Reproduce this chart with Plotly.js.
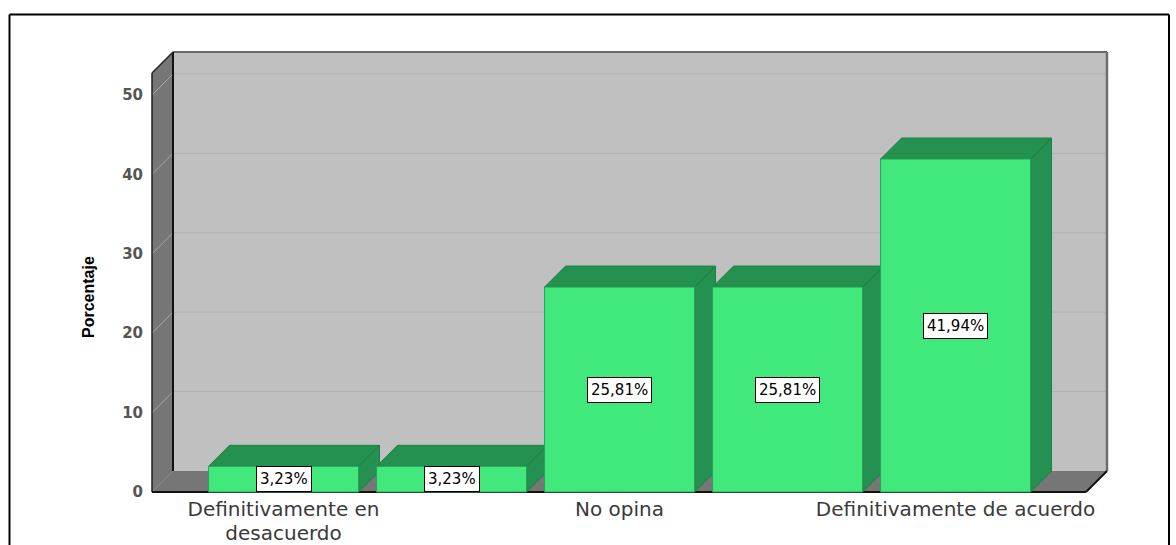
<!DOCTYPE html>
<html>
<head>
<meta charset="utf-8">
<script src="https://cdn.plot.ly/plotly-3.0.1.min.js"></script>
<style>
  html, body { margin: 0; padding: 0; background: #ffffff; }
  #chart { width: 1176px; height: 545px; }
</style>
</head>
<body>
<div id="chart"></div>
<script>
// ---- data ----
const categories = ['Definitivamente en desacuerdo', 'En desacuerdo', 'No opina', 'De acuerdo', 'Definitivamente de acuerdo'];
const percentages = [3.23, 3.23, 25.81, 25.81, 41.94];
// category tick labels as drawn (only every other category is labelled), split into two lines
const tickLabelsLine1 = ['Definitivamente en', '', 'No opina', '', 'Definitivamente de acuerdo'];
const tickLabelsLine2 = ['desacuerdo', '', '', '', ''];
const yTicks = [0, 10, 20, 30, 40, 50];
const yTickLabels = ['0', '10', '20', '30', '40', '50'];
const barLabels = percentages.map(v => v.toFixed(2).replace('.', ',') + '%');

// ---- geometry (pixel scale of the 3D box) ----
const PX_CAT = 168;      // px per category
const PX_UNIT = 7.94;    // px per percentage point
const DEPTH = 21;        // oblique depth in px
const FRONT_W = 955;     // width of front plane + depth in px
const FRONT_H = 440;     // height from floor front to back-wall top in px
const PAD = 2;
const dx = DEPTH / PX_CAT;
const dy = DEPTH / PX_UNIT;
const X0 = -0.783;                       // front-left edge
const X1 = X0 + FRONT_W / PX_CAT;        // back-right edge
const XF = X1 - dx;                      // front-right edge
const Y1 = FRONT_H / PX_UNIT;            // back-wall top
const xRange = [X0 - PAD / PX_CAT, X1 + PAD / PX_CAT];
const yRange = [-PAD / PX_UNIT, Y1 + PAD / PX_UNIT];
const BAR_W = 150 / PX_CAT;
const hw = BAR_W / 2;

const W = 1176, H = 545;
const mL = 150, mT = 50;
const plotW = FRONT_W + 2 * PAD, plotH = FRONT_H + 2 * PAD;
const mR = W - mL - plotW, mB = H - mT - plotH;
const px2paperX = px => (px - mL) / plotW;
const px2paperY = py => (mT + plotH - py) / plotH;

const idx = categories.map((c, i) => i);

// depth faces (top + right side) of each bar
const dX = [], dY = [];
idx.forEach((i) => {
  const v = percentages[i];
  dX.push(i - hw, i + hw, i + hw + dx, i - hw + dx, i - hw, null);
  dY.push(v, v, v + dy, v + dy, v, null);
  dX.push(i + hw, i + hw + dx, i + hw + dx, i + hw, i + hw, null);
  dY.push(0, dy, v + dy, v, 0, null);
});

const darkGreen = '#259150';
const green = '#41e97c';

const traces = [
  {
    type: 'scatter', mode: 'lines', x: dX, y: dY, fill: 'toself',
    fillcolor: darkGreen, line: { color: '#1f7f45', width: 1 },
    hoverinfo: 'skip', showlegend: false, xaxis: 'x', yaxis: 'y'
  },
  {
    type: 'bar', x: idx, y: percentages, width: BAR_W,
    marker: { color: green, line: { color: '#2c9f58', width: 1 } },
    hovertext: categories, hoverinfo: 'text+y', showlegend: false,
    xaxis: 'x2', yaxis: 'y2'
  }
];

const shapes = [];
const L = (x0, y0, x1, y1, color, width) => shapes.push({
  type: 'line', xref: 'x', yref: 'y', x0, y0, x1, y1, layer: 'below',
  line: { color, width }
});
// back wall
shapes.push({ type: 'rect', xref: 'x', yref: 'y', x0: X0 + dx, x1: X1, y0: dy, y1: Y1,
  fillcolor: '#c0c0c0', line: { width: 0 }, layer: 'below' });
// floor
shapes.push({ type: 'path', xref: 'x', yref: 'y', layer: 'below',
  path: `M ${X0} 0 L ${XF} 0 L ${X1} ${dy} L ${X0 + dx} ${dy} Z`,
  fillcolor: '#767676', line: { width: 0 } });
// left side wall
shapes.push({ type: 'path', xref: 'x', yref: 'y', layer: 'below',
  path: `M ${X0} 0 L ${X0 + dx} ${dy} L ${X0 + dx} ${Y1} L ${X0} ${Y1 - dy} Z`,
  fillcolor: '#767676', line: { width: 0 } });
// grid lines (back wall + side wall)
yTicks.filter(v => v > 0).forEach(v => {
  L(X0 + dx, v + dy, X1, v + dy, '#b1b1b1', 1);
  L(X0, v, X0 + dx, v + dy, '#a9a9a9', 1);
});
// edges
L(X0 + dx, Y1, X1, Y1, '#6a6a6a', 2);
L(X1, dy, X1, Y1, '#6e6e6e', 2.5);
L(X0, 0, X0 + dx, dy, '#8a8a8a', 1);
L(X0 + dx, dy, X0 + dx, Y1, '#111111', 2);
L(X0, 0, X0, Y1 - dy, '#222222', 1.5);
L(X0, Y1 - dy, X0 + dx, Y1, '#222222', 1.5);
L(X0, 0, XF, 0, '#111111', 2);
L(XF, 0, X1, dy, '#111111', 2);

// outer frame
const fl = px2paperX(9.5), ft = px2paperY(14.5), fr = px2paperX(1169), fb = px2paperY(600);
[[fl, fb, fl, ft], [fl, ft, fr, ft], [fr, ft, fr, fb]].forEach(s => shapes.push({
  type: 'line', xref: 'paper', yref: 'paper', x0: s[0], y0: s[1], x1: s[2], y1: s[3],
  line: { color: '#000000', width: 2 }
}));

const annotations = idx.map(i => ({
  xref: 'x', yref: 'y', x: i, y: percentages[i] / 2, text: barLabels[i],
  showarrow: false, bgcolor: '#ffffff', bordercolor: '#000000', borderwidth: 1, borderpad: 3,
  font: { family: 'DejaVu Sans', size: 15, color: '#000000' }
}));
annotations.push({
  xref: 'paper', yref: 'paper', x: px2paperX(88), y: px2paperY(297),
  text: 'Porcentaje', textangle: -90, showarrow: false, xanchor: 'center', yanchor: 'middle',
  font: { family: 'Liberation Sans', size: 16, color: '#000000', weight: 'bold' }
});

const xTickFont = { family: 'DejaVu Sans', size: 20, color: '#3a3a3a' };

const layout = {
  width: W, height: H,
  margin: { l: mL, r: mR, t: mT, b: mB, pad: 0 },
  paper_bgcolor: '#ffffff', plot_bgcolor: 'rgba(0,0,0,0)',
  showlegend: false,
  xaxis: {
    type: 'linear', range: xRange, fixedrange: true,
    tickmode: 'array', tickvals: idx, ticktext: tickLabelsLine1,
    showgrid: false, zeroline: false, showline: false,
    ticks: '', ticklabelstandoff: 1,
    tickfont: xTickFont
  },
  yaxis: {
    type: 'linear', range: yRange, fixedrange: true,
    tickmode: 'array', tickvals: yTicks, ticktext: yTickLabels,
    showgrid: false, zeroline: false, showline: false,
    ticks: 'outside', ticklen: 3, tickcolor: 'rgba(0,0,0,0)',
    tickfont: { family: 'DejaVu Sans', size: 15, color: '#555555', weight: 'bold' }
  },
  xaxis2: {
    overlaying: 'x', anchor: 'y2', side: 'bottom', type: 'linear', range: xRange, fixedrange: true,
    tickmode: 'array', tickvals: idx, ticktext: tickLabelsLine2,
    showgrid: false, zeroline: false, showline: false,
    ticks: '', ticklabelstandoff: 25,
    tickfont: xTickFont
  },
  yaxis2: { overlaying: 'y', anchor: 'x2', type: 'linear', range: yRange, visible: false, fixedrange: true },
  bargap: 0,
  shapes: shapes,
  annotations: annotations
};

Plotly.newPlot('chart', traces, layout, { displayModeBar: false, staticPlot: true });
</script>
</body>
</html>
